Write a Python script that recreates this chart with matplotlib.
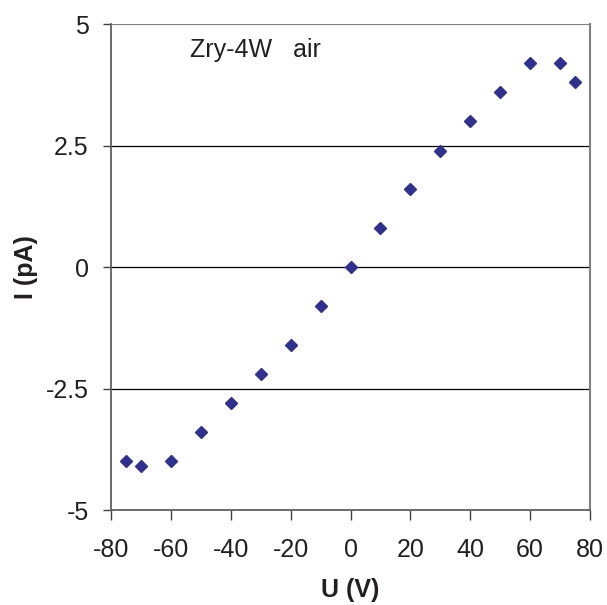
import matplotlib.pyplot as plt

plt.rcParams['font.family'] = ['Liberation Sans', 'DejaVu Sans']
plt.rcParams['axes.unicode_minus'] = False

# U (V) vs I (pA), Zry-4W in air
u = [-75, -70, -60, -50, -40, -30, -20, -10, 0, 10, 20, 30, 40, 50, 60, 70, 75]
i = [-4.0, -4.1, -4.0, -3.4, -2.8, -2.2, -1.6, -0.8, 0.0, 0.8, 1.6, 2.4, 3.0, 3.6, 4.2, 4.2, 3.8]

x_ticks = [-80, -60, -40, -20, 0, 20, 40, 60, 80]
y_ticks = [-5, -2.5, 0, 2.5, 5]
y_labels = ['-5', '-2.5', '0', '2.5', '5']

fig = plt.figure(figsize=(6.07, 6.05), dpi=100)
ax = fig.add_axes([0.183, 0.157, 0.789, 0.803])

for y in [-2.5, 0, 2.5]:
    ax.axhline(y, color='black', linewidth=0.9, zorder=1)
ax.axhline(5, color='#808080', linewidth=1.5, zorder=1)

ax.plot(u, i, linestyle='none', marker='D', markersize=6.5, color='#2E3192', zorder=3)

ax.set_xlim(-80, 80)
ax.set_ylim(-5, 5)
ax.set_xticks(x_ticks)
ax.set_yticks(y_ticks)
ax.set_yticklabels(y_labels)
ax.tick_params(labelsize=18, direction='out', width=1, color='#404040', labelcolor='#231f20')
ax.tick_params(axis='x', length=7, pad=13)
ax.tick_params(axis='y', length=6, pad=10)

ax.spines['top'].set_visible(False)
ax.spines['right'].set_color('#808080')
ax.spines['right'].set_linewidth(1.5)
ax.spines['left'].set_color('#606060')
ax.spines['left'].set_linewidth(1.3)
ax.spines['bottom'].set_color('#606060')
ax.spines['bottom'].set_linewidth(1.3)

ax.set_xlabel('U (V)', fontsize=18, fontweight='bold', labelpad=12, color='#231f20')
ax.set_ylabel('I (pA)', fontsize=18, fontweight='bold', labelpad=6, color='#231f20')

ax.text(0.165, 0.932, 'Zry-4W   air', transform=ax.transAxes, fontsize=18,
        va='baseline', color='#231f20')

fig.savefig('out.png', dpi=100)
